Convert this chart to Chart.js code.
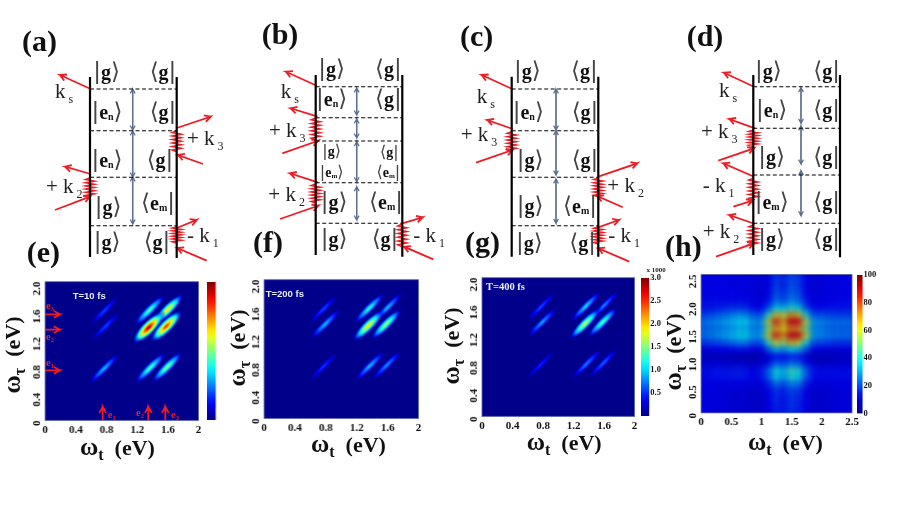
<!DOCTYPE html>
<html>
<head>
<meta charset="utf-8">
<script src="https://cdn.jsdelivr.net/npm/chart.js@4/dist/chart.umd.min.js"></script>
<style>
  html, body { margin: 0; padding: 0; background: #fff; width: 900px; height: 507px; overflow: hidden; }
  canvas { position: absolute; }
</style>
</head>
<body>
<canvas id="heatE"></canvas><canvas id="barE"></canvas>
<canvas id="heatF"></canvas>
<canvas id="heatG"></canvas><canvas id="barG"></canvas>
<canvas id="heatH"></canvas><canvas id="barH"></canvas>
<canvas id="overlay"></canvas>
<script>
// peaks (e), (f), (g): omega_t, omega_tau, intensity 0-100
const peakT = [0.77, 1.36, 1.60, 0.79, 1.35, 1.58, 0.77, 1.37, 1.59];
const peakTau = [1.58, 1.59, 1.60, 1.36, 1.34, 1.36, 0.75, 0.76, 0.77];
const valuesE = [22, 50, 70, 22, 100, 90, 35, 50, 55];
const valuesF = [22, 45, 35, 35, 70, 58, 20, 35, 30];
const valuesG = [22, 38, 28, 32, 62, 50, 18, 28, 25];

const ticksTwo = ["0", "0.4", "0.8", "1.2", "1.6", "2"];
const ticksTwoY = ["0", "0.4", "0.8", "1.2", "1.6", "2.0"];
const ticksH = ["0", "0.5", "1", "1.5", "2", "2.5"];
const ticksHY = ["0", "0.5", "1.0", "1.5", "2.0", "2.5"];
const barTicksG = ["", "0.5", "1.0", "1.5", "2.0", "2.5", "3.0"];
const barTicksH = ["0", "20", "40", "60", "80", "100"];

// panel (h), rows from omega_tau=2.5 down to 0, columns omega_t=0 to 2.5 in 0.125 steps
const gridH = [
  [13,13,13,13,12,12,12,11,10,11,19,16,21,19,12,10,11,12,12,13,13],
  [13,13,13,13,12,12,12,11,10,12,20,17,22,20,13,10,11,12,12,13,13],
  [13,13,13,13,12,12,12,11,10,12,21,17,23,20,13,10,11,12,12,13,13],
  [13,13,13,13,13,13,12,11,10,13,23,19,25,22,14,11,11,12,13,13,13],
  [14,14,14,14,14,14,14,12,11,15,26,22,29,25,15,11,12,13,13,14,14],
  [15,15,16,17,18,19,18,14,13,22,38,34,42,38,22,14,14,15,15,15,15],
  [20,21,23,25,27,30,29,23,22,42,66,58,72,66,40,22,22,21,20,20,20],
  [26,27,29,31,34,37,37,30,30,58,84,70,90,88,58,30,29,27,26,26,26],
  [24,25,26,28,30,33,33,27,28,52,70,62,74,70,50,28,27,25,24,24,24],
  [26,27,29,32,34,38,38,31,32,60,85,72,91,89,60,31,29,27,26,26,26],
  [19,20,21,23,25,28,28,22,22,42,62,54,68,62,40,22,21,20,19,19,19],
  [11,11,12,12,13,14,14,11,12,22,34,30,37,34,22,12,12,11,11,11,11],
  [7,7,7,7,6,6,6,5,6,9,15,13,16,15,9,6,6,7,7,8,8],
  [10,10,10,10,9,9,9,8,9,14,24,21,26,24,14,9,9,9,10,10,10],
  [14,14,15,15,15,16,15,13,15,24,40,33,44,41,24,15,14,14,14,14,14],
  [14,14,15,15,15,16,15,13,15,23,38,31,42,38,23,14,14,14,14,14,14],
  [12,12,12,12,12,12,12,10,11,16,25,21,28,26,16,11,11,11,12,12,12],
  [12,12,11,11,10,10,10,9,9,13,19,16,21,19,13,9,10,10,11,11,12],
  [12,12,11,11,10,10,10,9,9,12,18,15,19,18,12,9,10,10,11,11,12],
  [12,12,11,11,10,10,10,9,9,12,17,15,19,17,12,9,10,10,11,11,12],
  [12,12,11,11,10,10,10,9,9,12,16,15,18,16,12,9,10,10,11,11,12]
];

// energy level diagrams (a)-(d), in page units
const railLines = [
  [90,77,90,257],[176.7,77,176.7,258],
  [315.7,75,315.7,255],[402.3,75,402.3,256.7],
  [511.7,76.7,511.7,256.7],[598.3,76.7,598.3,256.7],
  [753.3,75,753.3,255],[840,75,840,257.3]
];
const dashedLines = [
  [90,89,176.7],[90,130.7,176.7],[90,177.3,176.7],[90,225.7,176.7],
  [315.7,86.7,402.3],[315.7,117.7,402.3],[315.7,141,402.3],[315.7,182.7,402.3],[315.7,223.3,402.3],
  [511.7,89,598.3],[511.7,130.7,598.3],[511.7,177.3,598.3],[511.7,225.7,598.3],
  [753.3,86.7,840],[753.3,128.3,840],[753.3,175,840],[753.3,223.3,840]
];
const slateArrows = [
  [132.7,89,130],[132.7,131,177],[132.7,177,224],
  [356.7,88,115],[356.7,119,138],[356.7,141.7,181.7],[356.7,186.7,220],
  [556,89,130],[556,130.7,175],[556,179,223.3],
  [801,87.7,123.3],[801,126,164],[801,170.7,215.7]
];
const redArrows = [
  [90.7,89,60,75],[176.7,128,210.7,116.7],[203,164,178,155],[90.7,174,65,166.7],[55,210,90,196.7],[176.7,228,196.7,220],[206.7,260.7,177.3,248],
  [316.7,85.7,286,71.7],[317.7,116.7,290.7,108.3],[282.3,153.3,318.3,140.7],[317.7,182.3,290,173.3],[280,219,318.3,205.7],[402.3,223.3,422.7,217.3],[433.3,259.3,404,246.7],
  [512.3,89,481.7,75],[512.7,129,487.3,120],[476,162.7,512.7,150],[598.3,176.7,637.3,163.3],[622.7,207.3,597.3,196],[598.3,227.3,619,220],[629.3,261.7,598.3,248.3],
  [754,86.7,724,72.7],[755,128.3,729.3,119],[718.3,160.7,754,148.3],[754,176.7,723.3,163.3],[733.3,206.7,752.7,200.7],[755,224,729.3,215],[716,256.7,754,243.3],
  // e1 e2 e3 markers on panel (e)
  [45,314.3,60,314.3],[45,329.7,60,329.7],[45,370.3,60,370.3],
  [102.7,420,102.7,406.7],[148.3,420,148.3,406.7],[165.3,420,165.3,406.7]
];
const waves = [
  [176.7,130.7,151.7],[90,178,197],[176.7,226.7,243],
  [315.7,118,140],[315.7,184,203],[402.3,224,246.7],
  [511.7,131.7,151.7],[598.3,178,196.7],[598.3,226.7,244],
  [753.3,130,146.7],[753.3,178.3,200],[753.3,225,246.7]
];
const kets = [
  [106.7,73.3,"k","g"],[163,73.3,"b","g"],[107,113,"k","e","n"],[163,113,"b","g"],[107,161,"k","e","n"],[160,161,"b","g"],[108,208,"k","g"],[158,204,"b","e","m"],[107,243,"k","g"],[157,243,"b","g"],
  [331.7,70,"k","g"],[388.3,70,"b","g"],[331.7,100,"k","e","n"],[388.3,100,"b","g"],[331.7,151.7,"k","g","",0.7],[389.3,152.7,"b","g","",0.7],[331.7,172.7,"k","e","m",0.7],[388.3,172.7,"b","e","m",0.7],[334,202.7,"k","g"],[386,202.7,"b","e","m"],[334,240,"k","g"],[385,240,"b","g"],
  [527.3,71.7,"k","g"],[584.3,71.7,"b","g"],[528.3,113.3,"k","e","n"],[585,113.3,"b","g"],[530,160.7,"k","g"],[585,160.7,"b","g"],[530,206.7,"k","g"],[580,207.3,"b","e","m"],[529.3,244,"k","g"],[582.7,244,"b","g"],
  [768.3,71.7,"k","g"],[826.7,71.7,"b","g"],[771.7,110.7,"k","e","n"],[826.7,110.7,"b","g"],[771.7,158.3,"k","g"],[826.7,158.3,"b","g"],[771.7,203.3,"k","e","m"],[826.7,203.3,"b","g"],[771.7,240,"k","g"],[826.7,240,"b","g"]
];
const kLabels = [
  [55,93,"k","s"],[187,140,"+ k","3"],[46,188,"+ k","2"],[187,237,"- k","1"],
  [280.7,92.7,"k","s"],[269,131.7,"+ k","3"],[268.3,195.7,"+ k","2"],[413.3,236.7,"- k","1"],
  [476.7,98,"k","s"],[460.7,135.7,"+ k","3"],[607.3,186.7,"+ k","2"],[608.3,236.7,"- k","1"],
  [719,91.7,"k","s"],[701,132.7,"+ k","3"],[702.7,186.7,"- k","1"],[702.7,233,"+ k","2"]
];
const panelLetters = [
  ["(a)",22,42],["(b)",261.7,35],["(c)",460,36.7],["(d)",686.7,36.7],
  ["(e)",26.7,253],["(f)",253,243],["(g)",465,243],["(h)",665,246.7]
];
const xTitles = [[80,455],[311,452],[526.7,450],[748,450]];
const yTitles = [[13,355],[238,348],[452,346],[674,352]];
const timeLabels = [
  ["T=10 fs",72.7,295.7,"bold 9.5px 'Liberation Sans'"],
  ["T=200 fs",265.7,294,"bold 9.5px 'Liberation Sans'"],
  ["T=400 fs",486,287,"bold 10.5px 'Liberation Serif'"]
];
const levelTags = [
  [50,305.7,"3"],[50,336.7,"2"],[50,362.7,"1"],[111.7,415,"1"],[140,413.3,"2"],[175,415,"3"]
];

const red = "#ee1c25";
const slate = "#5a6d8c";

function jet(v) {
  // v from 0 to 1
  const c = (d) => Math.round(255 * Math.max(0, Math.min(1, 1.5 - Math.abs(4 * v - d))));
  return [c(3), c(2), c(1)];
}
function jetColor(v, a) {
  const j = jet(v);
  return "rgba(" + j[0] + "," + j[1] + "," + j[2] + "," + (a === undefined ? 1 : a) + ")";
}

// elongated diagonal spot used as point style for a peak
function peakSprite(value) {
  const v = value / 100;
  const len = 23, wid = 2.4 + 5 * v;
  const size = 60;
  const cv = document.createElement("canvas");
  cv.width = size; cv.height = size;
  const g = cv.getContext("2d");
  g.translate(size / 2, size / 2);
  g.rotate(-Math.PI / 4);
  g.scale(len, wid);
  const grad = g.createRadialGradient(0, 0, 0, 0, 0, 1);
  for (let s = 0; s <= 1.001; s += 0.1) {
    const level = v * (1 - s);
    grad.addColorStop(Math.min(s, 1), jetColor(level, Math.min(1, (1 - s) * 2.5)));
  }
  g.fillStyle = grad;
  g.beginPath();
  g.arc(0, 0, 1, 0, Math.PI * 2);
  g.fill();
  return cv;
}

const plotBackground = {
  id: "plotBackground",
  beforeDatasetsDraw(chart) {
    const a = chart.chartArea, c = chart.ctx;
    c.save();
    c.fillStyle = jetColor(0.01);
    c.fillRect(a.left, a.top, a.width, a.height);
    c.restore();
  },
  afterDatasetsDraw(chart) {
    const a = chart.chartArea, c = chart.ctx;
    c.save();
    c.strokeStyle = "#5a66a8";
    c.lineWidth = 0.8;
    c.strokeRect(a.left, a.top, a.width, a.height);
    c.restore();
  }
};
const softCells = {
  id: "softCells",
  beforeDatasetDraw(chart) { chart.ctx.save(); chart.ctx.filter = "blur(3px)"; },
  afterDatasetDraw(chart) { chart.ctx.restore(); }
};

function heatAxes(maxV, step, xLabels, yLabels) {
  const font = { family: "'Liberation Serif'", size: 11, weight: "bold" };
  return {
    x: {
      type: "linear", min: 0, max: maxV,
      grid: { display: false, drawTicks: false }, border: { display: false },
      afterBuildTicks: (s) => { s.ticks = xLabels.map((l, i) => ({ value: i * step })); },
      ticks: { padding: 3, color: "#111", font: font, maxRotation: 0, autoSkip: false,
        callback: (v, i) => xLabels[i] }
    },
    y: {
      type: "linear", min: 0, max: maxV,
      grid: { display: false, drawTicks: false }, border: { display: false },
      afterBuildTicks: (s) => { s.ticks = yLabels.map((l, i) => ({ value: i * step })); },
      afterFit: (s) => { s.width = 20; },
      ticks: { padding: 8, color: "#111", font: font, minRotation: 90, maxRotation: 90, autoSkip: false,
        callback: (v, i) => yLabels[i] }
    }
  };
}

// put the chart on the page so that its plot area lands on the wanted box
function place(chart, left, top, w, h) {
  let a = chart.chartArea;
  chart.resize(chart.width + w - a.width, chart.height + h - a.height);
  a = chart.chartArea;
  chart.canvas.style.left = (left - a.left) + "px";
  chart.canvas.style.top = (top - a.top) + "px";
}

function peakChart(id, values, box) {
  const cv = document.getElementById(id);
  cv.width = box[2] + 50; cv.height = box[3] + 40;
  const points = peakT.map((t, i) => ({ x: t, y: peakTau[i] }));
  const sprites = values.map(peakSprite);
  const chart = new Chart(cv, {
    type: "scatter",
    data: { datasets: [{ data: points, pointRadius: 5, pointStyle: (c) => sprites[c.dataIndex] }] },
    options: {
      responsive: false, maintainAspectRatio: false, animation: false, devicePixelRatio: 1,
      plugins: { legend: { display: false }, tooltip: { enabled: false } },
      scales: heatAxes(2, 0.4, ticksTwo, ticksTwoY)
    },
    plugins: [plotBackground]
  });
  place(chart, box[0], box[1], box[2], box[3]);
  return chart;
}

function colorBar(id, maxV, labels, box) {
  const cv = document.getElementById(id);
  cv.width = box[2] + 40; cv.height = box[3] + 20;
  const chart = new Chart(cv, {
    type: "bar",
    data: { labels: [""], datasets: [{
      data: [maxV], barPercentage: 1, categoryPercentage: 1, borderWidth: 0,
      backgroundColor: (c) => {
        const a = c.chart.chartArea;
        if (!a) return "#000080";
        const g = c.chart.ctx.createLinearGradient(0, a.bottom, 0, a.top);
        for (let i = 0; i <= 20; i++) g.addColorStop(i / 20, jetColor(i / 20));
        return g;
      }
    }] },
    options: {
      responsive: false, maintainAspectRatio: false, animation: false, devicePixelRatio: 1,
      plugins: { legend: { display: false }, tooltip: { enabled: false } },
      scales: {
        x: { display: false },
        y: {
          position: "right", min: 0, max: maxV,
          display: labels.length > 0,
          grid: { display: false, drawTicks: false }, border: { display: false },
          afterBuildTicks: (s) => { s.ticks = labels.map((l, i) => ({ value: i * maxV / (labels.length - 1) })); },
          afterFit: (s) => { s.width = 24; },
          ticks: { padding: 1, color: "#111", autoSkip: false, crossAlign: "near",
            font: { family: "'Liberation Serif'", size: 8.5, weight: "bold" },
            callback: (v, i) => labels[i] }
        }
      }
    }
  });
  place(chart, box[0], box[1], box[2], box[3]);
  return chart;
}

Chart.defaults.font.family = "'Liberation Serif'";

peakChart("heatE", valuesE, [45, 282, 152.5, 138]);
peakChart("heatF", valuesF, [264, 280, 153.5, 138]);
peakChart("heatG", valuesG, [481.7, 277.7, 152.6, 138]);
colorBar("barE", 1, [], [207, 282, 8.5, 138]);
colorBar("barG", 3, barTicksG, [641, 277.7, 8.3, 138]);
colorBar("barH", 100, barTicksH, [856.7, 275, 5.6, 138.3]);

// panel (h)
const cellsH = [];
gridH.forEach((row, r) => row.forEach((val, c) => {
  cellsH.push({ x: c * 0.125, y: 2.5 - r * 0.125, v: val });
}));
const cvH = document.getElementById("heatH");
cvH.width = 200; cvH.height = 180;
const chartH = new Chart(cvH, {
  type: "scatter",
  data: { datasets: [{
    data: cellsH, pointStyle: "rect", pointBorderWidth: 0,
    pointRadius: (c) => (c.chart.chartArea ? c.chart.chartArea.width / 20 * 1.05 * Math.SQRT1_2 : 5),
    pointBackgroundColor: (c) => jetColor(c.raw.v / 100)
  }] },
  options: {
    responsive: false, maintainAspectRatio: false, animation: false, devicePixelRatio: 1,
    plugins: { legend: { display: false }, tooltip: { enabled: false } },
    scales: heatAxes(2.5, 0.5, ticksH, ticksHY)
  },
  plugins: [plotBackground, softCells]
});
place(chartH, 700.7, 275, 150, 138.3);

// ---- overlay with the level diagrams and all the lettering ----
function arrowPoints(a, size) {
  const ang = Math.atan2(a[3] - a[1], a[2] - a[0]);
  const b1 = { x: a[2] - size * Math.cos(ang - 0.5), y: a[3] - size * Math.sin(ang - 0.5) };
  const b2 = { x: a[2] - size * Math.cos(ang + 0.5), y: a[3] - size * Math.sin(ang + 0.5) };
  const tip = { x: a[2], y: a[3] };
  return [{ x: a[0], y: a[1] }, tip, b1, tip, b2];
}
function wavePoints(w) {
  const pts = [], n = 12;
  for (let i = 0; i <= n; i++) {
    const off = i === 0 || i === n ? 0 : (i % 2 ? -4.5 : 4.5);
    pts.push({ x: w[0] + off, y: w[1] + (w[2] - w[1]) * i / n });
  }
  return pts;
}
function lineSet(points, color, width, dash) {
  return { data: points, showLine: true, pointRadius: 0, borderColor: color, borderWidth: width,
    borderDash: dash || [], tension: 0, clip: false };
}

const overlaySets = [];
railLines.forEach((r) => overlaySets.push(lineSet([{ x: r[0], y: r[1] }, { x: r[2], y: r[3] }], "#000", 2.2)));
dashedLines.forEach((d) => overlaySets.push(lineSet([{ x: d[0], y: d[1] }, { x: d[2], y: d[1] }], "#000", 1.1, [4, 2.5])));
slateArrows.forEach((s) => {
  overlaySets.push(lineSet(arrowPoints([s[0], s[1], s[0], s[2]], 5), slate, 1.2));
  overlaySets.push(lineSet(arrowPoints([s[0], s[2], s[0], s[1]], 5), slate, 1.2));
});
redArrows.forEach((a) => overlaySets.push(lineSet(arrowPoints(a, 7), red, 1.8)));
waves.forEach((w) => overlaySets.push(lineSet(wavePoints(w), red, 1.5)));

function drawRun(c, pieces, x, y, align) {
  // pieces: [text, font, color, dy]
  let total = 0;
  pieces.forEach((p) => { c.font = p[1]; total += c.measureText(p[0]).width; });
  let px = align === "center" ? x - total / 2 : x;
  c.textAlign = "left";
  c.textBaseline = "alphabetic";
  pieces.forEach((p) => {
    c.font = p[1];
    c.fillStyle = p[2];
    c.fillText(p[0], px, y + (p[3] || 0));
    px += c.measureText(p[0]).width;
  });
}

const lettering = {
  id: "lettering",
  afterDatasetsDraw(chart) {
    const c = chart.ctx, sx = chart.scales.x, sy = chart.scales.y;
    const px = (v) => sx.getPixelForValue(v), py = (v) => sy.getPixelForValue(v);
    c.save();
    panelLetters.forEach((p) => {
      drawRun(c, [[p[0], "bold 30px 'Liberation Serif'", "#111"]], px(p[1]), py(p[2]) + 9);
    });
    kets.forEach((k) => {
      const sc = k[5] || 1;
      const thin = (23 * sc) + "px 'DejaVu Sans','Liberation Serif'";
      const bold = "bold " + (20 * sc) + "px 'Liberation Serif'";
      const sub = "bold " + (10 * sc) + "px 'Liberation Serif'";
      const pieces = [];
      const opening = k[2] === "k" ? "|" : "\u27E8";
      const closing = k[2] === "k" ? "\u27E9" : "|";
      pieces.push([opening, thin, "#444"]);
      pieces.push([k[3], bold, "#111"]);
      if (k[4]) pieces.push([k[4], sub, "#111", 1]);
      pieces.push([closing, thin, "#444"]);
      drawRun(c, pieces, px(k[0]), py(k[1]) + 6 * sc, "center");
    });
    kLabels.forEach((k) => {
      drawRun(c, [[k[2], "21px 'Liberation Serif'", "#222"], [" " + k[3], "12px 'Liberation Serif'", "#222", 5]], px(k[0]), py(k[1]) + 5);
    });
    const w = "bold 25px 'Liberation Serif'", t = "bold 22px 'Liberation Serif'", s = "bold 16px 'Liberation Serif'";
    xTitles.forEach((p) => {
      drawRun(c, [["\u03C9", w, "#111"], ["t", s, "#111", 5], ["  (eV)", t, "#111"]], px(p[0]), py(p[1]));
    });
    yTitles.forEach((p) => {
      c.save();
      c.translate(px(p[0]) + 7, py(p[1]));
      c.rotate(-Math.PI / 2);
      drawRun(c, [["\u03C9", w, "#111"], ["\u03C4", s, "#111", 5], ["  (eV)", t, "#111"]], 0, 0, "center");
      c.restore();
    });
    timeLabels.forEach((p) => drawRun(c, [[p[0], p[3], "#e8ecff"]], px(p[1]), py(p[2]) + 3));
    levelTags.forEach((p) => {
      drawRun(c, [["e", "bold 10.5px 'Liberation Serif'", red], [p[2], "bold 6.5px 'Liberation Serif'", red, 2]], px(p[0]), py(p[1]) + 3, "center");
    });
    drawRun(c, [["x 1000", "bold 7px 'Liberation Serif'", "#222"]], px(656), py(272), "center");
    c.restore();
  }
};

const ov = document.getElementById("overlay");
ov.width = 900; ov.height = 507;
ov.style.left = "0px"; ov.style.top = "0px";
new Chart(ov, {
  type: "scatter",
  data: { datasets: overlaySets },
  options: {
    responsive: false, maintainAspectRatio: false, animation: false, devicePixelRatio: 1,
    layout: { padding: 0 },
    plugins: { legend: { display: false }, tooltip: { enabled: false } },
    scales: {
      x: { type: "linear", min: 0, max: 900, display: false },
      y: { type: "linear", min: 0, max: 507, reverse: true, display: false }
    }
  },
  plugins: [lettering]
});
</script>
</body>
</html>
